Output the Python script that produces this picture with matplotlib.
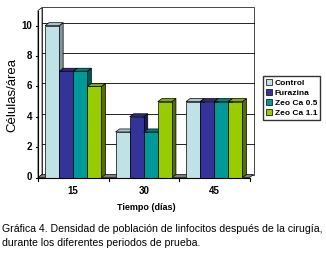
import matplotlib.pyplot as plt
from matplotlib.patches import Polygon
import numpy as np

dias = ["15", "30", "45"]
series = ["Control", "Furazina", "Zeo Ca 0.5", "Zeo Ca 1.1"]
valores = [
    [10, 3, 5],
    [7, 4, 5],
    [7, 3, 5],
    [6, 5, 5],
]
colores = ["#c0e2e6", "#333399", "#009999", "#99cc00"]
lados = ["#80969a", "#1c1c55", "#005555", "#556f00"]
techos = ["#a8c6ca", "#2a2a80", "#007f7f", "#80aa00"]

plt.rcParams['font.family'] = ['Liberation Sans', 'DejaVu Sans']

fig = plt.figure(figsize=(3.26, 2.56), dpi=100)
ax = fig.add_axes([38 / 326, 1 - 177.5 / 256, 211.5 / 326, 167 / 256])
ax.set_xlim(-0.5, 2.5)
ax.set_ylim(0, 11)
ax.axis('off')

DX, DY = 4, 3  # profundidad en pixeles


def desplazar(puntos, dx=DX, dy=DY):
    disp = ax.transData.transform(puntos)
    disp[:, 0] += dx
    disp[:, 1] += dy
    return ax.transData.inverted().transform(disp)


def cara(puntos, color, z):
    ax.add_patch(Polygon(puntos, closed=True, facecolor=color, edgecolor='black',
                         linewidth=0.5, zorder=z, clip_on=False))


# pared del fondo
fondo = desplazar(np.array([[-0.5, 0], [2.5, 0], [2.5, 11], [-0.5, 11]]))
cara(fondo, 'white', 0)
for v in [2, 4, 6, 8, 10]:
    p = desplazar(np.array([[-0.5, v], [2.5, v]]))
    ax.plot(p[:, 0], p[:, 1], color='black', linewidth=0.6, zorder=0.5, clip_on=False)
# pared izquierda
izq = np.array([[-0.5, 0], [-0.5, 11], *desplazar(np.array([[-0.5, 11], [-0.5, 0]]))])
cara(izq, 'white', 0.6)
# piso
piso = np.array([[-0.5, 0], [2.5, 0], *desplazar(np.array([[2.5, 0], [-0.5, 0]]))])
cara(piso, '#808080', 0.7)

ancho = 0.2
x = np.arange(len(dias))
for i, (serie, vals) in enumerate(zip(series, valores)):
    pos = x - 0.4 + ancho * i + ancho / 2
    barras = ax.bar(pos, vals, width=ancho, color=colores[i], edgecolor='black',
                    linewidth=0.5, label=serie, zorder=2 + i)
    for b in barras:
        x0, x1, h = b.get_x(), b.get_x() + b.get_width(), b.get_height()
        lado = np.array([[x1, 0], [x1, h], *desplazar(np.array([[x1, h], [x1, 0]]))])
        techo = np.array([[x0, h], [x1, h], *desplazar(np.array([[x1, h], [x0, h]]))])
        cara(lado, lados[i], 1.5 + i)
        cara(techo, techos[i], 1.5 + i)

# ejes
ax.plot([-0.5, -0.5], [0, 11], color='black', linewidth=0.8, zorder=10, clip_on=False)
ax.plot([-0.5, 2.5], [0, 0], color='black', linewidth=0.8, zorder=10, clip_on=False)
for v in range(0, 11, 2):
    ax.plot([-0.53, -0.5], [v, v], color='black', linewidth=0.8, clip_on=False)
    ax.text(-0.58, v, str(v), ha='right', va='center', fontsize=7, fontweight='bold')
for k in range(len(dias) + 1):
    ax.plot([k - 0.5, k - 0.5], [0, -0.25], color='black', linewidth=0.8, clip_on=False)
for k, d in enumerate(dias):
    ax.text(k, -0.55, d, ha='center', va='top', fontsize=7, fontweight='bold')

fig.text(12 / 326, 1 - 95 / 256, "Células/área", rotation=90, ha='center', va='center', fontsize=9.5)
fig.text(146 / 326, 1 - 207 / 256, "Tiempo (días)", ha='center', va='center', fontsize=6.5, fontweight='bold')

fig.legend(loc='upper left', bbox_to_anchor=(263 / 326, 1 - 76 / 256), fontsize=6,
           prop={'weight': 'bold', 'size': 6}, frameon=True, fancybox=False,
           edgecolor='black', handlelength=0.8, handleheight=0.8, handletextpad=0.3,
           borderpad=0.3, labelspacing=0.25, borderaxespad=0)

fig.text(2 / 326, 1 - 229 / 256,
         "Gráfica 4. Densidad de población de linfocitos después de la cirugía,",
         ha='left', va='center', fontsize=7.6)
fig.text(2 / 326, 1 - 243 / 256, "durante los diferentes periodos de prueba.",
         ha='left', va='center', fontsize=7.6)

fig.savefig("out.png", dpi=100)
